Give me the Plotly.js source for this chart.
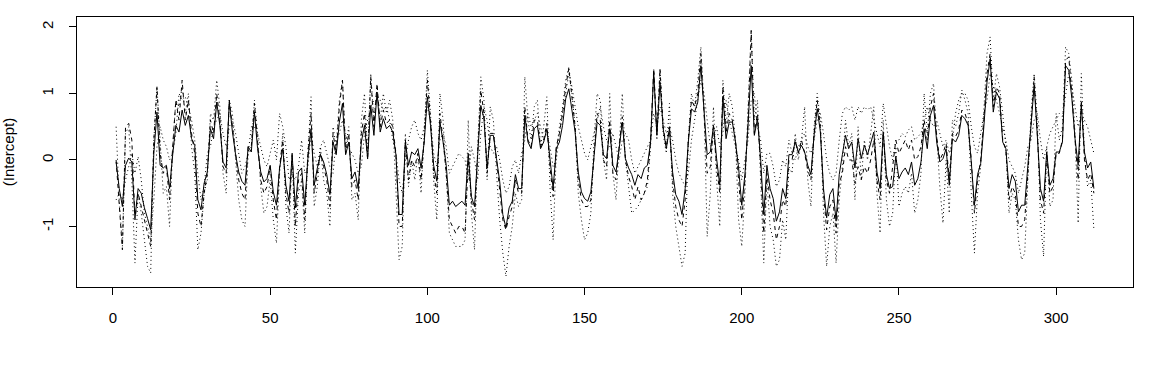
<!DOCTYPE html>
<html>
<head>
<meta charset="utf-8">
<script src="https://cdn.plot.ly/plotly-3.0.1.min.js"></script>
<style>html,body{margin:0;padding:0;background:#fff;}#chart{width:1152px;height:384px;}</style>
</head>
<body>
<div id="chart"></div>
<script>
const estimate = [-0.03,-0.43,-0.70,-0.08,0.03,-0.03,-0.87,-0.43,-0.50,-0.72,-0.88,-1.05,0.10,0.72,-0.08,-0.12,-0.08,-0.43,0.08,0.52,
0.42,0.75,0.52,0.67,0.32,0.22,-0.60,-0.75,-0.35,-0.18,0.47,0.32,0.87,0.52,-0.03,-0.12,0.87,0.42,0.08,-0.18,
-0.32,-0.38,0.20,0.12,0.72,0.17,-0.18,-0.33,-0.28,-0.08,-0.48,-0.68,-0.12,0.17,-0.38,-0.62,0.08,-0.72,-0.18,-0.12,
-0.68,0.02,0.47,-0.38,-0.12,0.08,-0.03,-0.22,-0.52,0.27,0.08,0.57,0.85,0.08,0.27,-0.28,-0.18,-0.43,0.27,0.52,
0.02,0.82,0.37,1.02,0.42,0.62,0.47,0.52,0.42,0.08,-0.82,-0.82,0.27,-0.08,0.12,0.08,0.17,-0.12,0.27,0.95,
0.52,-0.08,-0.32,0.57,0.27,-0.08,-0.68,-0.62,-0.70,-0.66,-0.62,-0.68,0.10,-0.55,-0.70,0.08,0.82,0.62,-0.12,0.37,
0.37,0.02,-0.32,-0.82,-1.02,-0.72,-0.62,-0.22,-0.43,-0.43,0.67,0.27,0.17,0.47,0.52,0.17,0.27,0.47,-0.03,-0.43,
0.17,0.27,0.52,0.92,1.07,0.77,0.42,-0.18,-0.48,-0.58,-0.62,-0.48,0.08,0.57,0.52,0.08,0.02,0.47,-0.08,-0.18,
0.17,0.57,0.02,-0.12,-0.22,-0.38,-0.22,-0.28,-0.12,-0.08,0.27,1.32,0.37,1.17,0.47,0.17,0.47,-0.18,-0.52,-0.62,
-0.82,-0.43,0.27,0.77,0.72,0.87,1.42,0.67,0.08,0.12,0.52,0.02,-0.38,0.95,0.32,0.57,0.57,0.27,-0.12,-0.68,
-0.22,0.52,1.42,0.37,0.62,0.02,-0.82,-0.08,-0.43,-0.58,-0.92,-0.78,-0.43,-0.58,0.08,0.08,0.27,0.12,0.22,0.12,
-0.08,-0.22,0.37,0.77,0.42,-0.43,-0.87,-0.52,-0.43,-0.92,-0.22,0.08,0.37,0.17,0.27,-0.12,0.32,0.02,0.22,0.08,
0.27,0.42,-0.18,-0.43,0.42,-0.22,-0.43,-0.40,0.05,-0.28,-0.18,-0.12,-0.22,-0.03,-0.38,-0.28,-0.03,0.47,0.17,0.67,
0.82,0.27,-0.03,0.02,0.17,-0.38,0.32,0.27,0.37,0.67,0.62,0.52,-0.03,-0.68,-0.22,-0.05,0.50,1.17,1.52,0.72,
1.02,0.92,0.27,0.17,-0.43,-0.22,-0.32,-0.78,-0.68,-0.68,-0.08,0.52,1.12,0.37,-0.43,-0.62,0.12,-0.38,-0.28,0.12,
0.12,0.27,1.42,1.35,0.92,0.32,-0.08,0.82,0.12,-0.12,-0.03,-0.43];

const dashedSeries = [0.0,-0.7,-1.35,0.5,0.55,0.3,-0.9,-0.5,-0.7,-0.9,-1.1,-1.3,0.3,1.1,0.1,-0.2,-0.1,-0.6,0.2,0.9,
0.6,1.2,0.6,0.9,0.4,0.1,-0.8,-1.0,-0.5,-0.2,0.6,0.4,1.0,0.6,-0.1,-0.2,0.9,0.5,0.1,-0.3,
-0.5,-0.6,0.2,0.2,0.85,0.2,-0.3,-0.5,-0.4,-0.1,-0.6,-0.9,-0.1,0.3,-0.5,-0.8,0.1,-1.0,-0.3,-0.2,
-0.9,0.1,0.7,-0.5,-0.2,0.1,-0.1,-0.3,-0.7,0.4,0.1,0.8,1.2,0.1,0.4,-0.4,-0.3,-0.6,0.4,0.7,
0.0,1.25,0.5,1.15,0.5,0.75,0.55,0.6,0.5,0.1,-1.0,-1.0,0.3,-0.3,0.0,-0.1,0.1,-0.3,0.3,1.2,
0.6,-0.2,-0.5,0.7,0.3,-0.2,-0.9,-1.0,-1.1,-1.0,-1.0,-1.1,0.0,-0.6,-0.9,0.1,1.05,0.7,-0.2,0.4,
0.4,0.0,-0.5,-0.9,-1.05,-0.85,-0.7,-0.3,-0.5,-0.5,0.8,0.3,0.2,0.6,0.6,0.2,0.3,0.55,-0.1,-0.55,
0.2,0.4,0.7,1.1,1.38,0.9,0.5,-0.3,-0.6,-0.7,-0.7,-0.6,0.1,0.7,0.6,0.0,-0.1,0.6,-0.2,-0.3,
0.2,0.65,0.0,-0.25,-0.4,-0.6,-0.4,-0.6,-0.5,-0.3,0.3,1.37,0.4,1.37,0.5,0.2,0.5,-0.3,-0.7,-0.9,
-1.0,-0.6,0.3,0.9,0.8,1.0,1.6,0.7,-0.2,-0.1,0.5,-0.1,-0.5,1.1,0.4,0.7,0.6,0.3,-0.3,-0.9,
-0.3,0.6,1.95,0.4,0.7,-0.1,-1.1,-0.2,-0.6,-0.8,-1.2,-1.0,-0.6,-0.7,0.0,0.0,0.3,0.1,0.3,0.1,
-0.15,-0.3,0.4,0.9,0.5,-0.5,-1.05,-0.7,-0.6,-1.1,-0.35,-0.2,0.2,0.0,0.0,-0.35,-0.1,-0.3,-0.1,-0.2,
0.0,0.3,-0.3,-0.6,0.4,-0.3,-0.5,-0.1,0.3,0.1,0.2,0.3,0.15,0.3,0.0,0.05,0.2,0.6,0.3,0.8,
1.0,0.35,0.0,0.1,0.25,-0.3,0.4,0.35,0.45,0.75,0.7,0.55,0.0,-0.8,-0.3,0.0,0.6,1.3,1.6,0.8,
1.1,1.0,0.3,0.15,-0.6,-0.4,-0.5,-1.0,-1.0,-0.9,-0.2,0.5,1.25,0.4,-0.6,-0.8,0.1,-0.5,-0.4,0.1,
0.1,0.3,1.5,1.55,1.0,0.3,-0.3,0.9,0.0,-0.3,-0.2,-0.5];

const dottedA = [0.5,-0.6,-1.3,0.4,0.5,-0.3,-1.55,-0.5,-0.8,-1.2,-1.6,-1.7,0.3,1.1,0.2,-0.5,-0.4,-1.0,0.2,0.9,
0.8,1.1,0.7,1.0,0.2,-0.2,-1.35,-1.1,-0.5,-0.3,0.7,0.6,1.2,0.8,-0.2,-0.5,0.9,0.7,0.0,-0.6,
-0.9,-1.0,0.1,0.2,0.9,0.4,-0.4,-0.8,-0.7,-0.3,-0.9,-1.25,-0.2,0.4,-0.7,-1.1,0.1,-1.4,-0.5,-0.3,
-1.1,0.1,0.95,-0.7,-0.4,0.2,-0.3,-0.5,-1.0,0.5,0.2,0.9,1.2,0.2,0.5,-0.6,-0.5,-0.9,0.6,1.0,
0.1,1.3,0.6,1.1,0.6,1.0,0.7,0.9,0.6,-0.4,-1.5,-1.3,0.4,-0.4,0.0,-0.3,0.1,-0.5,0.4,1.35,
0.7,-0.3,-0.9,1.0,0.6,-0.3,-1.1,-1.2,-1.3,-1.3,-1.3,-1.2,0.6,-0.8,-1.35,0.2,1.25,0.9,-0.3,0.8,
0.6,-0.2,-0.9,-1.4,-1.75,-1.3,-1.0,-0.5,-0.7,-0.6,1.25,0.6,0.3,0.8,0.9,0.2,0.5,0.95,-0.4,-1.2,
0.1,0.5,0.8,1.2,1.4,1.0,0.5,-0.5,-0.9,-1.2,-1.1,-0.8,0.3,1.0,0.9,0.0,-0.3,1.0,-0.2,-0.6,
0.3,1.0,0.0,-0.4,-0.8,-0.75,-0.7,-0.6,-0.5,-0.4,0.2,1.37,0.3,1.37,0.4,0.1,0.85,-0.5,-1.0,-1.3,
-1.6,-1.4,0.3,1.0,0.8,1.2,1.7,0.8,-1.15,-0.5,0.8,-0.3,-1.0,1.2,0.5,1.0,0.8,0.3,-0.9,-1.3,
-0.5,0.8,1.95,0.6,0.9,-0.3,-1.55,-0.3,-1.0,-1.2,-1.6,-1.5,-0.9,-1.2,-0.1,-0.2,0.4,0.0,0.3,0.8,
-0.3,-0.7,0.5,1.0,0.6,-0.8,-1.6,-1.0,-0.8,-1.55,-0.6,-0.1,0.6,0.2,0.4,-0.6,0.5,-0.3,0.3,0.0,
0.4,0.8,-0.5,-1.1,0.6,-0.6,-1.0,-0.8,0.2,-0.7,-0.5,-0.4,-0.5,-0.2,-0.8,-0.6,-0.2,1.0,0.4,1.0,
1.15,0.4,-0.4,-0.95,0.0,-0.8,0.6,0.5,0.7,1.05,0.9,0.7,-0.5,-1.4,-0.5,-0.1,0.8,1.6,1.85,0.9,
1.3,1.1,0.7,0.2,-0.8,-0.5,-0.6,-1.2,-1.5,-1.4,-0.3,0.7,1.3,0.6,-0.9,-1.45,0.2,-0.7,-0.6,0.7,
0.3,0.5,1.7,1.6,1.2,0.4,-0.95,1.3,0.1,-0.4,-0.3,-1.05];

const dottedB = [-0.6,-0.5,-0.6,-0.3,-0.1,0.1,-0.2,0.05,-0.3,-0.8,-1.0,-1.2,-0.6,0.2,0.5,0.3,0.2,0.0,0.1,0.4,
1.0,0.9,0.95,0.8,0.6,0.3,-0.2,-0.6,-0.4,0.1,0.2,0.5,0.6,0.7,0.4,0.2,0.5,0.6,0.4,0.1,
-0.2,-0.1,0.1,0.5,0.5,0.4,0.2,0.0,-0.1,0.1,0.3,0.0,0.7,0.5,0.2,-0.3,-0.2,-0.3,-0.1,0.3,
-0.2,-0.1,0.4,0.1,-0.1,0.2,0.3,0.1,-0.1,-0.2,0.3,0.4,0.6,0.4,0.2,0.1,0.0,-0.2,-0.1,0.4,
0.6,0.8,0.9,0.9,0.9,0.75,0.8,0.6,0.3,0.1,-0.3,-0.5,0.0,0.3,0.5,0.6,0.4,0.3,0.5,0.8,
0.6,0.1,-0.1,0.3,0.4,0.2,-0.2,-0.1,0.0,0.1,0.05,0.0,-0.3,0.2,0.0,-0.3,0.4,0.8,0.6,0.2,
0.1,0.2,0.0,-0.3,-0.5,-0.4,-0.1,0.0,-0.2,0.1,0.3,0.7,0.5,0.6,0.7,0.5,0.3,0.4,0.2,-0.1,
0.0,0.4,0.7,1.0,1.3,1.1,0.8,0.5,0.3,0.1,0.0,0.2,0.4,0.6,0.8,0.5,0.3,0.2,0.4,0.2,
0.0,0.3,0.4,0.3,0.0,-0.2,-0.1,0.0,0.1,0.2,0.3,0.7,0.5,0.8,0.6,0.4,0.5,0.3,0.0,-0.2,
-0.3,-0.4,-0.2,0.3,0.6,0.9,1.2,1.0,0.6,0.2,0.3,0.5,0.2,0.4,0.9,0.6,0.4,0.2,0.0,-0.3,
0.0,0.3,0.9,1.0,0.5,0.3,-0.2,0.1,0.1,-0.1,-0.4,-0.3,0.0,-0.1,0.3,0.1,0.0,0.2,0.3,0.4,
0.2,0.1,0.3,0.6,0.7,0.4,0.0,-0.2,-0.3,-0.2,0.3,0.7,0.8,0.75,0.8,0.6,0.8,0.7,0.8,0.75,
0.8,0.6,0.4,0.2,0.85,0.5,0.2,0.0,0.3,0.3,0.4,0.35,0.45,0.5,0.3,0.35,0.4,0.6,0.8,0.6,
0.5,0.6,0.4,0.2,0.3,0.1,0.3,0.7,0.9,1.0,1.0,0.9,0.5,0.2,0.1,0.4,0.7,0.9,1.3,1.1,
0.9,0.7,0.5,0.3,0.0,-0.1,-0.2,-0.5,-0.3,-0.1,0.2,0.3,0.6,0.7,0.3,0.0,0.2,0.4,0.5,0.6,
0.7,0.65,1.0,1.3,1.1,0.8,0.5,0.7,0.6,0.5,0.3,0.1];

const xTicks = [0, 50, 100, 150, 200, 250, 300];
const yTicks = [-1, 0, 1, 2];
const yLabel = '(Intercept)';

const idx = estimate.map((_, k) => k + 1);

function mk(y, dash) {
  return {x: idx, y: y, type: 'scatter', mode: 'lines', hoverinfo: 'skip',
    line: {color: '#000', width: 1, dash: dash}};
}

const traces = [
  mk(dottedA, '1px,3px'),
  mk(dottedB, '1px,3px'),
  mk(dashedSeries, '4px,4px'),
  mk(estimate, 'solid')
];

const font = {family: 'Liberation Sans, Arial, sans-serif', size: 15, color: '#000'};
const layout = {
  width: 1152, height: 384,
  margin: {l: 77, r: 19, t: 17, b: 97},
  paper_bgcolor: '#fff', plot_bgcolor: '#fff',
  showlegend: false,
  font: font,
  xaxis: {
    range: [-11.44, 324.44], tickvals: xTicks, ticktext: xTicks.map(String),
    showgrid: false, zeroline: false, showline: true, mirror: true,
    linecolor: '#000', linewidth: 1, ticks: 'outside', ticklen: 7, tickcolor: '#000',
    tickfont: font, ticklabelstandoff: 10
  },
  yaxis: {
    range: [-1.91, 2.15], tickvals: yTicks, ticktext: yTicks.map(String),
    showgrid: false, zeroline: false, showline: true, mirror: true,
    linecolor: '#000', linewidth: 1, ticks: 'outside', ticklen: 7, tickcolor: '#000',
    tickangle: -90, tickfont: font, ticklabelstandoff: 10,
    title: {text: yLabel, font: font, standoff: 20}
  }
};

Plotly.newPlot('chart', traces, layout, {staticPlot: true, displayModeBar: false});
</script>
</body>
</html>
